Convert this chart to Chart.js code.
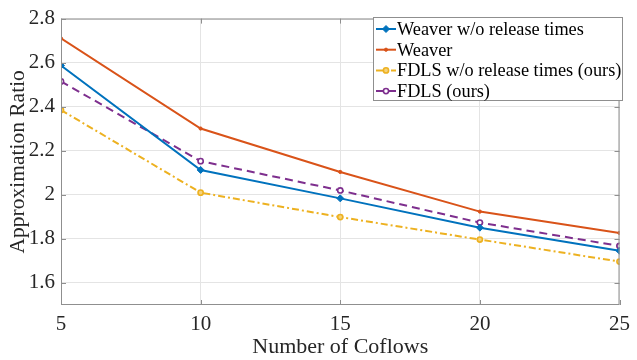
<!DOCTYPE html>
<html>
<head>
<meta charset="utf-8">
<script src="https://cdn.jsdelivr.net/npm/chart.js@4/dist/chart.umd.min.js"></script>
<style>
    html, body { margin: 0; padding: 0; background: #fff; }
    #wrap { width: 637px; height: 360px; }
</style>
</head>
<body>
<div id="wrap"><canvas id="ratioChart" width="637" height="360"></canvas></div>
<script>
// Chart data
const coflows = [5, 10, 15, 20, 25];
const weaverNoRelease = [2.587, 2.113, 1.984, 1.851, 1.746];
const weaver = [2.71, 2.301, 2.104, 1.924, 1.827];
const fdlsNoRelease = [2.385, 2.01, 1.899, 1.797, 1.697];
const fdls = [2.515, 2.153, 2.02, 1.874, 1.768];

const xTicks = [5, 10, 15, 20, 25];
const yTicks = [1.6, 1.8, 2, 2.2, 2.4, 2.6, 2.8];

const seriesNames = [
    'Weaver w/o release times',
    'Weaver',
    'FDLS w/o release times (ours)',
    'FDLS (ours)'
];

const SERIF = '"Liberation Serif", "Times New Roman", serif';
const FRAME = '#8f8f8f';

const toPoints = ys => coflows.map((x, i) => ({ x: x, y: ys[i] }));

// box around the axes + inward tick marks (MATLAB look)
const framePlugin = {
    id: 'frame',
    afterDatasetsDraw(chart) {
        const { ctx, chartArea: a, scales } = chart;
        ctx.save();
        ctx.strokeStyle = FRAME;
        ctx.lineWidth = 1;
        ctx.strokeRect(a.left + 0.5, a.top + 0.5, a.right - a.left - 1, a.bottom - a.top - 1);
        ctx.beginPath();
        const len = 5;
        scales.y.ticks.forEach(t => {
            const y = Math.round(scales.y.getPixelForValue(t.value)) + 0.5;
            ctx.moveTo(a.left, y); ctx.lineTo(a.left + len, y);
            ctx.moveTo(a.right, y); ctx.lineTo(a.right - len, y);
        });
        scales.x.ticks.forEach(t => {
            const x = Math.round(scales.x.getPixelForValue(t.value)) + 0.5;
            ctx.moveTo(x, a.bottom); ctx.lineTo(x, a.bottom - len);
            ctx.moveTo(x, a.top); ctx.lineTo(x, a.top + len);
        });
        ctx.stroke();
        ctx.restore();
    }
};

// legend box in the upper right of the plot
const legendPlugin = {
    id: 'boxLegend',
    afterDraw(chart) {
        const ctx = chart.ctx;
        const box = { x: 373.5, y: 17.5, w: 249, h: 83 };
        ctx.save();
        ctx.fillStyle = '#fff';
        ctx.fillRect(box.x, box.y, box.w, box.h);
        ctx.strokeStyle = FRAME;
        ctx.lineWidth = 1;
        ctx.strokeRect(box.x, box.y, box.w, box.h);

        chart.data.datasets.forEach((ds, i) => {
            const y = 29 + i * 20.7;
            ctx.setLineDash(ds.borderDash || []);
            ctx.strokeStyle = ds.borderColor;
            ctx.lineWidth = ds.borderWidth;
            ctx.beginPath();
            ctx.moveTo(376, y);
            ctx.lineTo(396, y);
            ctx.stroke();
            ctx.setLineDash([]);

            // marker
            const r = ds.pointRadius;
            ctx.fillStyle = ds.pointBackgroundColor;
            ctx.strokeStyle = ds.borderColor;
            ctx.lineWidth = ds.pointBorderWidth;
            ctx.beginPath();
            if (ds.pointStyle === 'rectRot') {
                ctx.moveTo(386, y - r); ctx.lineTo(386 + r, y);
                ctx.lineTo(386, y + r); ctx.lineTo(386 - r, y);
                ctx.closePath();
            } else {
                ctx.arc(386, y, r, 0, Math.PI * 2);
            }
            ctx.fill();
            ctx.stroke();

            ctx.fillStyle = '#000';
            ctx.font = '18.3px ' + SERIF;
            ctx.textBaseline = 'middle';
            ctx.textAlign = 'left';
            ctx.fillText(ds.label, 397, y + 1);
        });
        ctx.restore();
    }
};

function initChart() {
    const ctx = document.getElementById('ratioChart').getContext('2d');
    new Chart(ctx, {
        type: 'line',
        data: {
            datasets: [
                {
                    label: seriesNames[0],
                    data: toPoints(weaverNoRelease),
                    borderColor: '#0072BD',
                    backgroundColor: '#0072BD',
                    borderWidth: 2,
                    pointStyle: 'rectRot',
                    pointRadius: 3.5,
                    pointBorderWidth: 1,
                    pointBackgroundColor: '#0072BD'
                },
                {
                    label: seriesNames[1],
                    data: toPoints(weaver),
                    borderColor: '#D95319',
                    backgroundColor: '#D95319',
                    borderWidth: 2,
                    pointStyle: 'circle',
                    pointRadius: 1.6,
                    pointBorderWidth: 1,
                    pointBackgroundColor: '#D95319'
                },
                {
                    label: seriesNames[2],
                    data: toPoints(fdlsNoRelease),
                    borderColor: '#EDB120',
                    backgroundColor: '#EDB120',
                    borderWidth: 2,
                    borderDash: [7, 3, 2, 3],
                    pointStyle: 'circle',
                    pointRadius: 2.6,
                    pointBorderWidth: 1.6,
                    pointBackgroundColor: '#f4d27c'
                },
                {
                    label: seriesNames[3],
                    data: toPoints(fdls),
                    borderColor: '#7E2F8E',
                    backgroundColor: '#7E2F8E',
                    borderWidth: 2,
                    borderDash: [8, 5],
                    pointStyle: 'circle',
                    pointRadius: 2.6,
                    pointBorderWidth: 1.6,
                    pointBackgroundColor: '#ffffff'
                }
            ]
        },
        options: {
            responsive: false,
            animation: false,
            layout: { padding: { top: 12, right: 10, left: 0, bottom: 0 } },
            plugins: {
                legend: { display: false },
                tooltip: { enabled: false }
            },
            elements: { line: { tension: 0 } },
            scales: {
                x: {
                    type: 'linear',
                    min: 5,
                    max: 25,
                    afterBuildTicks: s => { s.ticks = xTicks.map(v => ({ value: v })); },
                    afterFit: s => { s.height = 55; },
                    grid: { color: '#e4e4e4', drawTicks: false },
                    border: { display: false },
                    ticks: {
                        padding: 7,
                        color: '#262626',
                        font: { family: SERIF, size: 21 },
                        callback: v => String(v)
                    },
                    title: {
                        display: true,
                        text: 'Number of Coflows',
                        color: '#262626',
                        font: { family: SERIF, size: 22 },
                        padding: { top: 0, bottom: 0 }
                    }
                },
                y: {
                    min: 1.5,
                    max: 2.8,
                    afterBuildTicks: s => { s.ticks = yTicks.map(v => ({ value: v })); },
                    afterFit: s => { s.width = 61; },
                    grid: { color: '#e4e4e4', drawTicks: false },
                    border: { display: false },
                    ticks: {
                        padding: 6,
                        color: '#262626',
                        font: { family: SERIF, size: 21 },
                        callback: v => String(v)
                    },
                    title: {
                        display: true,
                        text: 'Approximation Ratio',
                        color: '#262626',
                        font: { family: SERIF, size: 21.5 },
                        padding: { top: 5, bottom: 0 }
                    }
                }
            }
        },
        plugins: [framePlugin, legendPlugin]
    });
}

document.addEventListener('DOMContentLoaded', initChart);
</script>
</body>
</html>
